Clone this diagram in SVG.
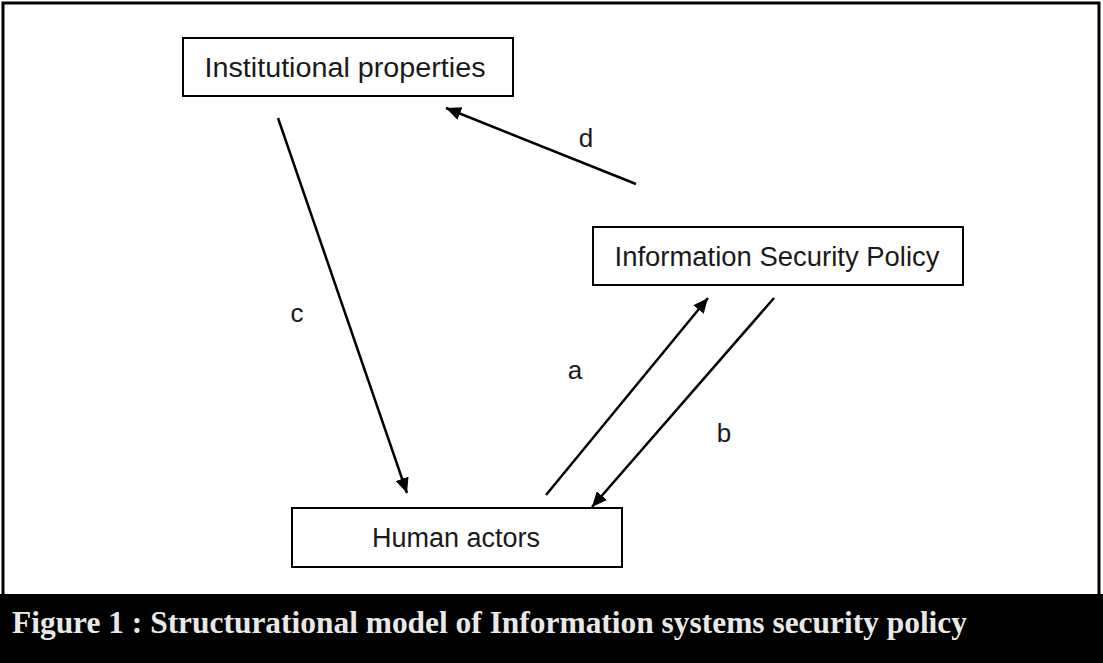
<svg xmlns="http://www.w3.org/2000/svg" width="1103" height="663" viewBox="0 0 1103 663">
<style>
.box{fill:#fff;stroke:#000;stroke-width:2}
.bt{font-family:"Liberation Sans",Arial,sans-serif;font-size:27px;fill:#1a1a1a;text-anchor:middle}
.lbl{font-family:"Liberation Sans",Arial,sans-serif;font-size:26px;fill:#1a1a1a;text-anchor:middle}
.cn{stroke:#000;stroke-width:2.5;fill:none;marker-end:url(#ah)}
.cap{font-family:"Liberation Serif","Times New Roman",serif;font-weight:bold;font-size:31px;fill:#e8e8e8}
</style>
<defs>
<marker id="ah" viewBox="0 0 10 9" refX="10" refY="4.5" markerWidth="6" markerHeight="5.4" markerUnits="strokeWidth" orient="auto">
<path d="M0,0 L10,4.5 L0,9 z" fill="#000"/>
</marker>
</defs>
<rect x="0" y="0" width="1103" height="663" fill="#fff"/>
<rect x="3" y="3" width="1096" height="640" fill="none" stroke="#000" stroke-width="3"/>
<rect x="0" y="594" width="1103" height="69" fill="#000"/>
<text class="cap" x="12" y="633" textLength="955" lengthAdjust="spacingAndGlyphs">Figure 1 : Structurational model of Information systems security policy</text>
<g id="connectors">
<line class="cn" x1="278" y1="118" x2="407" y2="493"/>
<line class="cn" x1="636" y1="184" x2="446" y2="108"/>
<line class="cn" x1="546" y1="495" x2="708" y2="298"/>
<line class="cn" x1="774" y1="298" x2="592" y2="507"/>
<text class="lbl" x="297" y="322">c</text>
<text class="lbl" x="586" y="147">d</text>
<text class="lbl" x="575" y="379">a</text>
<text class="lbl" x="724" y="442">b</text>
</g>
<g id="institutional">
<rect class="box" x="183" y="38" width="330" height="58"/>
<text class="bt" x="345" y="77" textLength="281" lengthAdjust="spacingAndGlyphs">Institutional properties</text>
</g>
<g id="isp">
<rect class="box" x="593" y="227" width="370" height="58"/>
<text class="bt" x="777" y="266" textLength="325" lengthAdjust="spacingAndGlyphs">Information Security Policy</text>
</g>
<g id="human">
<rect class="box" x="292" y="508" width="330" height="59"/>
<text class="bt" x="456" y="547" textLength="168" lengthAdjust="spacingAndGlyphs">Human actors</text>
</g>
</svg>
